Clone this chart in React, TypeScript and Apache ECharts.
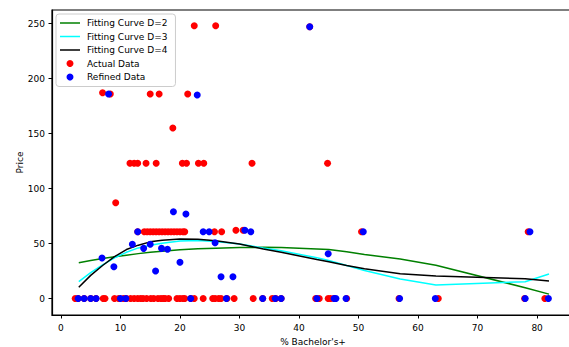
import React, { useEffect, useRef } from "react";
import * as echarts from "echarts";

const xTicks = [0, 10, 20, 30, 40, 50, 60, 70, 80];
const yTicks = [0, 50, 100, 150, 200, 250];

const actualZeroX = [2.4, 2.9, 3.9, 5.0, 5.9, 7.1, 7.4, 9.0, 9.7, 10.5, 11.0, 11.7, 12.3, 12.9, 13.4, 13.8, 14.4, 15.1, 15.6, 16.3, 16.8, 17.2, 17.5, 18.1, 19.5, 20.0, 20.5, 20.8, 21.8, 22.4, 23.9, 25.5, 25.9, 26.5, 26.9, 27.9, 29.1, 32.3, 33.9, 35.5, 36.1, 37.0, 42.8, 43.4, 44.9, 45.3, 45.9, 48.0, 56.8, 63.4, 77.9, 81.3];

const actualUpper = [
  [7.0, 187], [8.3, 186], [15.0, 186], [16.5, 186], [21.3, 186],
  [22.4, 248], [26.0, 248], [41.8, 247], [18.8, 155],
  [11.6, 123], [12.3, 123], [12.9, 123], [14.3, 123], [16.0, 123], [20.4, 123], [21.1, 123], [23.1, 123], [24.0, 123], [32.1, 123], [44.8, 123],
  [9.2, 87],
  [12.9, 60.7], [14.0, 60.7], [14.5, 60.7], [15.0, 60.7], [15.5, 60.7], [16.0, 60.7], [16.5, 60.7], [17.0, 60.7], [17.5, 60.7], [18.0, 60.7], [18.5, 60.7], [19.0, 60.7], [19.5, 60.7], [20.0, 60.7], [20.5, 60.7], [20.8, 60.7],
  [25.8, 60.7], [27.0, 60.7], [29.4, 62], [30.6, 62], [50.5, 60.7], [78.5, 60.7],
];

const refinedZeroX = [2.9, 3.9, 5.0, 5.9, 10.0, 10.9, 21.8, 27.8, 33.9, 36.0, 37.0, 43.0, 45.9, 46.2, 47.9, 56.9, 62.9, 78.0, 81.9];

const refinedUpper = [
  [8.0, 186], [22.9, 185], [41.8, 247],
  [18.9, 78.9], [21.0, 76.8],
  [12.9, 60.7], [23.9, 60.7], [24.9, 60.7], [30.9, 62], [31.9, 60.7], [50.8, 60.7], [78.8, 60.7],
  [12.0, 49.3], [15.0, 49.3], [25.9, 50.7],
  [13.9, 45.6], [16.9, 45.6], [17.9, 44.7],
  [44.9, 40.7],
  [6.9, 36.8], [20.0, 32.9], [8.9, 28.9], [15.9, 25], [26.9, 19.8], [28.9, 19.8],
];

const curveX = [3, 5, 7, 9, 11, 13, 15, 17, 20, 23, 26, 30, 34, 37, 43, 45, 48, 51, 57, 63, 78, 82];
const fitD2 = [32.6, 34.5, 36.3, 37.9, 39.4, 40.8, 42.0, 43.0, 44.3, 45.2, 45.8, 46.3, 46.5, 46.3, 45.0, 44.5, 42.4, 40.0, 36.0, 30.3, 9.8, 4.0];
const fitD3 = [15.3, 23.5, 30.5, 37.0, 42.0, 46.0, 48.5, 50.3, 52.3, 52.8, 51.8, 49.5, 46.0, 43.5, 37.0, 34.5, 30.0, 25.5, 17.8, 12.3, 15.3, 22.3];
const fitD4 = [10.2, 21.0, 30.0, 38.0, 44.5, 48.5, 51.5, 53.0, 54.0, 53.8, 52.6, 49.5, 45.0, 42.0, 35.5, 33.5, 30.0, 27.0, 22.6, 20.5, 18.0, 16.0];

const seriesNames = ["Fitting Curve D=2", "Fitting Curve D=3", "Fitting Curve D=4", "Actual Data", "Refined Data"];

export default function App() {
  const ref = useRef<HTMLDivElement>(null);
  useEffect(() => {
    if (!ref.current) return;
    const chart = echarts.init(ref.current, null, { renderer: "svg" });
    const zip = (xs: number[], ys: number[]) => xs.map((x, i) => [x, ys[i]]);
    const actual = [...actualZeroX.map((x) => [x, 0]), ...actualUpper];
    const refined = [...refinedZeroX.map((x) => [x, 0]), ...refinedUpper];
    const font = "DejaVu Sans";
    const fs = 9;
    const lineIcon = "path://M0,0 L20,0 L20,1.5 L0,1.5 Z";
    const option: any = {
      animation: false,
      textStyle: { fontFamily: font },
      grid: {
        left: 52, top: 10, right: -5, bottom: 32,
        containLabel: false, outerBoundsMode: "none",
        show: true, borderColor: "#000", borderWidth: 1.2,
      },
      legend: {
        orient: "vertical",
        left: 56,
        top: 14,
        itemWidth: 20,
        itemHeight: 7,
        itemGap: 2.5,
        padding: [3.5, 8, 4, 4],
        backgroundColor: "rgba(255,255,255,0.8)",
        borderColor: "#cccccc",
        borderWidth: 1,
        borderRadius: 3,
        textStyle: { fontFamily: font, fontSize: fs, color: "#000", lineHeight: 11, padding: [0, 0, 0, 2] },
        data: [
          { name: seriesNames[0], icon: lineIcon },
          { name: seriesNames[1], icon: lineIcon },
          { name: seriesNames[2], icon: lineIcon },
          { name: seriesNames[3], icon: "circle" },
          { name: seriesNames[4], icon: "circle" },
        ],
      },
      xAxis: {
        type: "value",
        min: -1.5,
        max: 86.2,
        name: "% Bachelor's+",
        nameLocation: "middle",
        nameGap: 22,
        nameMoveOverlap: false,
        nameTextStyle: { fontFamily: font, fontSize: fs, color: "#000" },
        axisLine: { show: true, onZero: false, lineStyle: { color: "#000", width: 1.2 } },
        axisTick: { show: true, length: 3.5, lineStyle: { color: "#000", width: 1 }, customValues: xTicks },
        axisLabel: { fontFamily: font, fontSize: fs, color: "#000", margin: 8, customValues: xTicks },
        splitLine: { show: false },
      },
      yAxis: {
        type: "value",
        min: -15,
        max: 262.3,
        name: "Price",
        nameLocation: "middle",
        nameGap: 27.5,
        nameRotate: 90,
        nameMoveOverlap: false,
        nameTextStyle: { fontFamily: font, fontSize: fs, color: "#000" },
        axisLine: { show: true, onZero: false, lineStyle: { color: "#000", width: 1.2 } },
        axisTick: { show: true, length: 3.5, lineStyle: { color: "#000", width: 1 }, customValues: yTicks },
        axisLabel: { fontFamily: font, fontSize: fs, color: "#000", margin: 7, customValues: yTicks },
        splitLine: { show: false },
      },
      series: [
        { name: seriesNames[0], type: "line", symbol: "none", data: zip(curveX, fitD2), lineStyle: { color: "#008000", width: 1.5 }, itemStyle: { color: "#008000" }, z: 2 },
        { name: seriesNames[1], type: "line", symbol: "none", data: zip(curveX, fitD3), lineStyle: { color: "#00ffff", width: 1.5 }, itemStyle: { color: "#00ffff" }, z: 2 },
        { name: seriesNames[2], type: "line", symbol: "none", data: zip(curveX, fitD4), lineStyle: { color: "#000000", width: 1.5 }, itemStyle: { color: "#000000" }, z: 2 },
        { name: seriesNames[3], type: "scatter", symbol: "circle", symbolSize: 7, data: actual, itemStyle: { color: "#ff0000", opacity: 1 }, z: 3 },
        { name: seriesNames[4], type: "scatter", symbol: "circle", symbolSize: 7, data: refined, itemStyle: { color: "#0000ff", opacity: 1 }, z: 4 },
      ],
    };
    chart.setOption(option);
    return () => chart.dispose();
  }, []);
  return <div ref={ref} style={{ position: "absolute", left: 0, top: 0, width: 569, height: 347 }} />;
}
